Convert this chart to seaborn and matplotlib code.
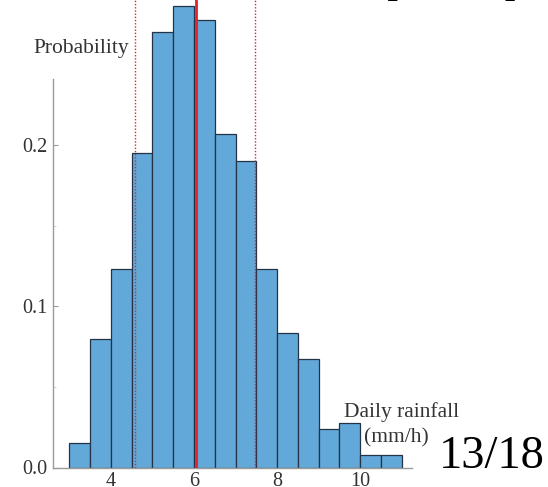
import numpy as np
import pandas as pd
import matplotlib
matplotlib.use("Agg")
import matplotlib.pyplot as plt
import seaborn as sns
from matplotlib.ticker import FixedLocator

# ---- data ----
bin_left = [3.0, 3.5, 4.0, 4.5, 5.0, 5.5, 6.0, 6.5, 7.0, 7.5, 8.0, 8.5, 9.0, 9.5, 10.0, 10.5]
prob = [0.0154, 0.0795, 0.1231, 0.1949, 0.2699, 0.2862, 0.2775, 0.2066,
        0.1903, 0.1231, 0.0832, 0.0673, 0.0237, 0.0276, 0.0078, 0.0078]
bin_width = 0.5
mean_val = 6.04
band_low = 4.58
band_high = 7.47
x_ticks = [4, 6, 8, 10]
x_minor = [3, 5, 7, 9, 11]
y_ticks = [0.0, 0.1, 0.2]
y_tick_labels = ["0.0", "0.1", "0.2"]
y_minor = [0.05, 0.15]

sns.set_theme(style="white")
plt.rcParams['font.family'] = ['Liberation Serif', 'DejaVu Serif']

W, H = 548, 487
fig = plt.figure(figsize=(W / 100, H / 100), dpi=100)
ax = fig.add_axes([52.7 / W, 1 - 467.5 / H, 359 / W, 467.5 / H])

edges = bin_left + [bin_left[-1] + bin_width]
df = pd.DataFrame({"center": np.array(bin_left) + bin_width / 2, "p": prob})
sns.histplot(data=df, x="center", weights="p", bins=edges, ax=ax,
             color="#62a8d8", edgecolor="#243447", linewidth=0.9, alpha=1.0)

ax.set_xlim(2.6, 11.24)
ax.set_ylim(0, 467.5 / 1612.5)

red = "#e3202b"
ax.axvline(mean_val, color=red, lw=2.0, zorder=5)
for v in (band_low, band_high):
    ax.axvline(v, color=red, lw=1.0, ls=(0, (1, 1.3)), zorder=5)

ax.set_xlabel("")
ax.set_ylabel("")
for s in ("top", "right"):
    ax.spines[s].set_visible(False)
for s in ("left", "bottom"):
    ax.spines[s].set_color("#9a9a9a")
    ax.spines[s].set_linewidth(1.0)
ax.spines["left"].set_bounds(0, 0.241)

ax.set_xticks(x_ticks)
ax.set_xticklabels([str(t) for t in x_ticks])
ax.xaxis.set_minor_locator(FixedLocator(x_minor))
ax.set_yticks(y_ticks)
ax.set_yticklabels(y_tick_labels)
ax.yaxis.set_minor_locator(FixedLocator(y_minor))
ax.tick_params(axis="both", which="major", direction="in", length=3.5, width=0.8,
               color="#9a9a9a", labelsize=14.5, labelcolor="#333333")
ax.tick_params(axis="x", which="major", pad=3.5, bottom=True)
ax.tick_params(axis="y", which="major", pad=3.5, left=True)
ax.tick_params(axis="both", which="minor", direction="in", length=2.5, width=0.6,
               color="#c8c8c8")
ax.tick_params(axis="y", which="minor", left=True)
ax.tick_params(axis="x", which="minor", bottom=True)

tc = "#333333"
fig.text(81.4 / W, 1 - 48 / H, "Probability", ha="center", va="center", fontsize=15.5, color=tc)
fig.text(402 / W, 1 - 412 / H, "Daily rainfall", ha="center", va="center", fontsize=15.5, color=tc)
fig.text(396 / W, 1 - 438 / H, "(mm/h)", ha="center", va="center", fontsize=15.5, color=tc)
fig.text(492 / W, 1 - 456.5 / H, "13/18", ha="center", va="center", fontsize=33.5, color="black")
fig.text(385 / W, 1 + 5 / H, "[", ha="left", va="baseline", fontsize=30, fontweight="bold", color="black")
fig.text(517 / W, 1 + 5 / H, "]", ha="right", va="baseline", fontsize=30, fontweight="bold", color="black")

fig.savefig("out.png", dpi=100)
